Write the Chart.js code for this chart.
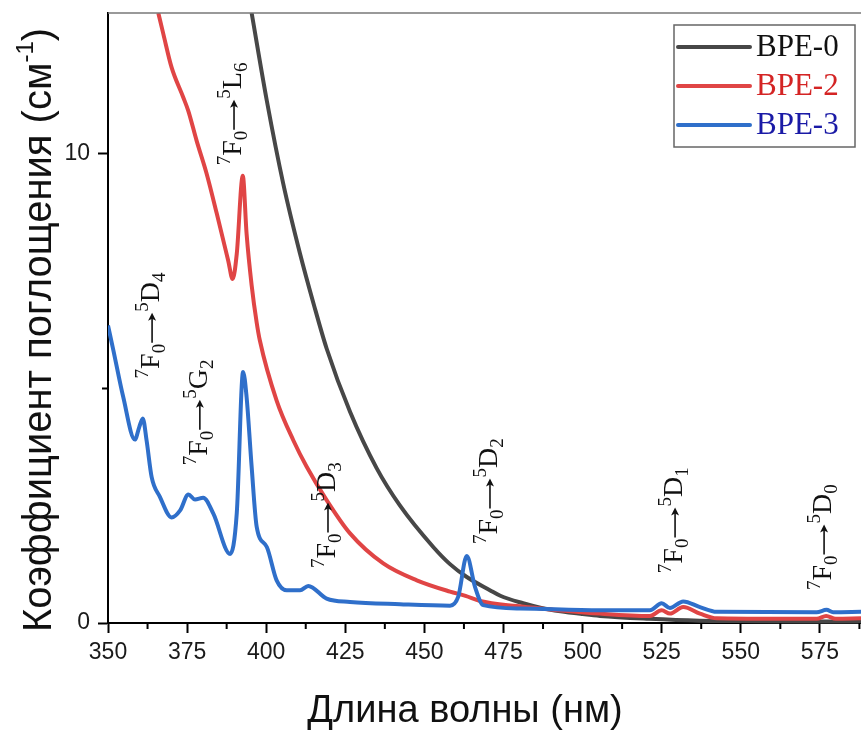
<!DOCTYPE html>
<html>
<head>
<meta charset="utf-8">
<script src="https://cdn.jsdelivr.net/npm/chart.js@4.4.1/dist/chart.umd.min.js"></script>
<style>
  html, body { margin: 0; padding: 0; background: #fff; }
  #absChart { display: block; }
</style>
</head>
<body>
<canvas id="absChart" width="861" height="737"></canvas>
<script>
// series (wavelength in nm, absorption coefficient in cm-1)
const seriesNames = ['BPE-0', 'BPE-2', 'BPE-3'];

const wlBpe0 = [395.4, 400.2, 405.4, 410.7, 415, 419.1, 426.5, 434.9, 442.3, 452.8, 458, 463.4, 470.7, 474, 481.2, 487, 493, 500, 505.5, 521, 537, 550, 570, 588];
const absBpe0 = [13.0, 11.13, 9.36, 7.87, 6.8, 5.85, 4.5, 3.3, 2.5, 1.62, 1.26, 0.98, 0.7, 0.58, 0.42, 0.32, 0.25, 0.19, 0.15, 0.09, 0.05, 0.04, 0.03, 0.03];

const wlBpe2 = [365.9, 367.5, 370.1, 373.8, 375.4, 378.0, 381.2, 384.4, 388.0, 389.4, 390.7, 392.6, 393.8, 395.4, 397, 398, 403.3, 408.6, 412.8, 419.1, 426.5, 437, 447.6, 458.1, 463, 467.6, 479.2, 490, 505.5, 521.3, 525, 527.6, 531.8, 537.1, 542.4, 560, 574, 577, 580, 588];
const absBpe2 = [13.0, 12.55, 11.84, 11.2, 10.91, 10.28, 9.57, 8.72, 7.72, 7.33, 7.87, 9.53, 8.3, 7.2, 6.4, 6.02, 4.74, 3.89, 3.33, 2.62, 1.91, 1.27, 0.91, 0.67, 0.58, 0.47, 0.36, 0.29, 0.2, 0.15, 0.27, 0.2, 0.34, 0.2, 0.1, 0.09, 0.09, 0.15, 0.09, 0.1];

const wlBpe3 = [350, 351.7, 354.8, 358.5, 359.9, 361.0, 362.2, 363.8, 366.4, 370.1, 372.8, 375.4, 377.5, 380.1, 383.3, 388.6, 390.7, 392.7, 393.8, 395.4, 397.0, 400.2, 403.3, 406.5, 410.7, 413.3, 419.1, 426.5, 442.3, 458.1, 460.7, 463.4, 466, 468.6, 480.2, 505.5, 521.3, 525, 527.6, 531.8, 537.1, 542.4, 574, 577.1, 579.2, 588];
const absBpe3 = [6.34, 5.81, 4.82, 3.91, 4.18, 4.36, 3.89, 3.11, 2.69, 2.25, 2.40, 2.74, 2.63, 2.67, 2.33, 1.47, 2.34, 5.35, 4.82, 3.33, 2.05, 1.62, 0.91, 0.70, 0.70, 0.79, 0.52, 0.45, 0.40, 0.37, 0.56, 1.43, 0.77, 0.38, 0.31, 0.27, 0.27, 0.42, 0.32, 0.46, 0.34, 0.24, 0.23, 0.28, 0.23, 0.24];

// transition labels 7F0 -> 5Xn, anchored at (wavelength, value)
const termLetters = ['D', 'G', 'L', 'D', 'D', 'D', 'D'];
const termSubs = ['4', '2', '6', '3', '2', '1', '0'];
const termWl = [363.3, 378.4, 389.2, 418.9, 470.1, 528.6, 575.7];
const termAbs = [6.34, 4.49, 10.85, 2.30, 2.81, 2.19, 1.83];

const lineColors = ['#474747', '#e04545', '#2f6fca'];
const textColors = ['#111111', '#d42424', '#1a1aa6'];

const toPoints = (xs, ys) => xs.map((x, i) => ({ x: x, y: ys[i] }));

const SANS = '"Liberation Sans", Arial, sans-serif';
const SERIF = '"Liberation Serif", "Times New Roman", serif';

function drawTerm(ctx, cx, cy, letter, sub) {
    const big = 28, small = 19, arrowLen = 30;
    const parts = [
        { t: '7', f: small, dy: -11 },
        { t: 'F', f: big, dy: 0 },
        { t: '0', f: small, dy: 6 },
        { arrow: true },
        { t: '5', f: small, dy: -11 },
        { t: letter, f: big, dy: 0 },
        { t: sub, f: small, dy: 6 }
    ];
    let total = 0;
    parts.forEach(p => {
        if (p.arrow) { p.w = arrowLen + 2; }
        else {
            ctx.font = p.f + 'px ' + SERIF;
            p.w = ctx.measureText(p.t).width;
        }
        total += p.w;
    });
    ctx.save();
    ctx.translate(cx, cy);
    ctx.rotate(-Math.PI / 2);
    ctx.fillStyle = '#111';
    ctx.strokeStyle = '#111';
    ctx.textBaseline = 'alphabetic';
    ctx.textAlign = 'left';
    let x = -total / 2;
    const base = 9;
    parts.forEach(p => {
        if (p.arrow) {
            const ay = base - 7;
            ctx.lineWidth = 1.6;
            ctx.beginPath();
            ctx.moveTo(x + 1, ay);
            ctx.lineTo(x + arrowLen - 3, ay);
            ctx.stroke();
            ctx.beginPath();
            ctx.moveTo(x + arrowLen + 1, ay);
            ctx.lineTo(x + arrowLen - 7, ay - 4);
            ctx.lineTo(x + arrowLen - 5, ay);
            ctx.lineTo(x + arrowLen - 7, ay + 4);
            ctx.closePath();
            ctx.fill();
        } else {
            ctx.font = p.f + 'px ' + SERIF;
            ctx.fillText(p.t, x, base + p.dy);
        }
        x += p.w;
    });
    ctx.restore();
}

const extras = {
    id: 'extras',
    afterDatasetsDraw(chart) {
        const ctx = chart.ctx;
        const xs = chart.scales.x, ys = chart.scales.y;
        termLetters.forEach((l, i) => {
            drawTerm(ctx, xs.getPixelForValue(termWl[i]), ys.getPixelForValue(termAbs[i]), l, termSubs[i]);
        });
    },
    afterDraw(chart) {
        const ctx = chart.ctx;
        const area = chart.chartArea;
        const xs = chart.scales.x, ys = chart.scales.y;
        ctx.save();
        // top frame line
        ctx.strokeStyle = '#777';
        ctx.lineWidth = 1.5;
        ctx.beginPath();
        ctx.moveTo(area.left, area.top);
        ctx.lineTo(area.right, area.top);
        ctx.stroke();
        // minor ticks
        ctx.strokeStyle = '#000';
        ctx.lineWidth = 2;
        ctx.beginPath();
        for (let v = 362.5; v < xs.max; v += 25) {
            const px = xs.getPixelForValue(v);
            ctx.moveTo(px, area.bottom);
            ctx.lineTo(px, area.bottom + 6);
        }
        const py5 = ys.getPixelForValue(5);
        ctx.moveTo(area.left, py5);
        ctx.lineTo(area.left - 6, py5);
        ctx.stroke();

        // axis titles
        ctx.fillStyle = '#111';
        ctx.textBaseline = 'middle';
        ctx.textAlign = 'center';
        ctx.font = '38px ' + SANS;
        ctx.fillText('Длина волны (нм)', 465, 712);

        ctx.save();
        ctx.translate(36, 330);
        ctx.rotate(-Math.PI / 2);
        const main = 'Коэффициент поглощения (см';
        ctx.font = '40px ' + SANS;
        const wMain = ctx.measureText(main).width;
        const wClose = ctx.measureText(')').width;
        ctx.font = '24px ' + SANS;
        const wSup = ctx.measureText('-1').width;
        const total = wMain + wSup + wClose;
        let x0 = -total / 2;
        ctx.textAlign = 'left';
        ctx.textBaseline = 'alphabetic';
        ctx.font = '40px ' + SANS;
        ctx.fillText(main, x0, 15);
        ctx.font = '24px ' + SANS;
        ctx.fillText('-1', x0 + wMain, -3);
        ctx.font = '40px ' + SANS;
        ctx.fillText(')', x0 + wMain + wSup, 15);
        ctx.restore();

        // legend
        ctx.fillStyle = '#fff';
        ctx.fillRect(674, 25, 181, 122);
        ctx.strokeStyle = '#666';
        ctx.lineWidth = 1.5;
        ctx.strokeRect(674, 25, 181, 122);
        const rows = [47, 86, 125];
        seriesNames.forEach((name, i) => {
            ctx.strokeStyle = lineColors[i];
            ctx.lineWidth = 4;
            ctx.lineCap = 'round';
            ctx.beginPath();
            ctx.moveTo(678, rows[i]);
            ctx.lineTo(750, rows[i]);
            ctx.stroke();
            ctx.fillStyle = textColors[i];
            ctx.font = '31px ' + SERIF;
            ctx.textAlign = 'left';
            ctx.textBaseline = 'middle';
            ctx.fillText(name, 756, rows[i] + 1);
        });
        ctx.restore();
    }
};

new Chart(document.getElementById('absChart'), {
    type: 'line',
    data: {
        datasets: [
            { label: seriesNames[0], data: toPoints(wlBpe0, absBpe0), borderColor: lineColors[0], order: 2 },
            { label: seriesNames[1], data: toPoints(wlBpe2, absBpe2), borderColor: lineColors[1], order: 1 },
            { label: seriesNames[2], data: toPoints(wlBpe3, absBpe3), borderColor: lineColors[2], order: 0 }
        ]
    },
    options: {
        responsive: false,
        animation: false,
        devicePixelRatio: 1,
        layout: { padding: { top: 13, right: 0, left: 0, bottom: 0 } },
        elements: {
            line: { borderWidth: 4, cubicInterpolationMode: 'monotone', fill: false },
            point: { radius: 0 }
        },
        datasets: { line: { clip: { left: 0, top: 0, right: 0, bottom: 3 } } },
        plugins: { legend: { display: false }, tooltip: { enabled: false } },
        scales: {
            x: {
                type: 'linear',
                min: 350,
                max: 588,
                afterFit: s => { s.height = 114; s.paddingLeft = 0; s.paddingRight = 0; },
                ticks: {
                    stepSize: 25,
                    includeBounds: false,
                    autoSkip: false,
                    maxRotation: 0,
                    padding: 6,
                    color: '#1a1a1a',
                    font: { family: SANS, size: 23 }
                },
                grid: { drawOnChartArea: false, tickLength: 10, tickColor: '#000', tickWidth: 2 },
                border: { color: '#000', width: 2 }
            },
            y: {
                min: 0,
                max: 13,
                afterFit: s => { s.width = 108; s.paddingTop = 0; s.paddingBottom = 0; },
                ticks: {
                    stepSize: 10,
                    includeBounds: false,
                    padding: 8,
                    color: '#1a1a1a',
                    font: { family: SANS, size: 23 }
                },
                grid: { drawOnChartArea: false, tickLength: 10, tickColor: '#000', tickWidth: 2 },
                border: { color: '#000', width: 2 }
            }
        }
    },
    plugins: [extras]
});
</script>
</body>
</html>
